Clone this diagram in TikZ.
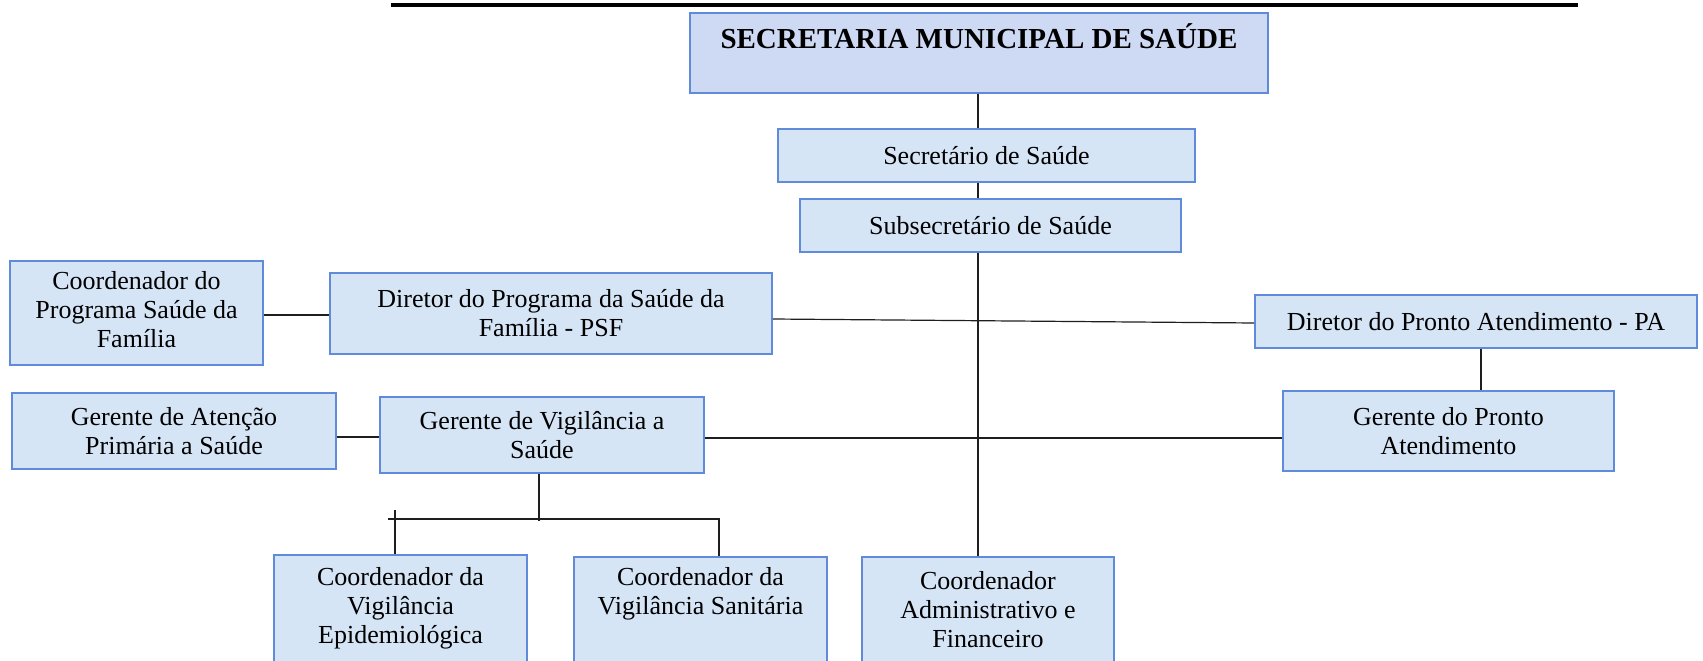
\documentclass[tikz,border=0pt]{standalone}
\usepackage{fontspec}
\setmainfont{Liberation Serif}
\definecolor{boxfill}{RGB}{214,229,246}
\definecolor{titlefill}{RGB}{206,217,243}
\definecolor{boxline}{RGB}{96,138,218}
\definecolor{conn}{RGB}{30,30,30}
\tikzset{
  orgbox/.style={draw=boxline, line width=1.6pt, fill=boxfill, align=center,
    inner sep=0pt, font=\fontsize{26}{29}\selectfont},
  conline/.style={draw=conn, line width=1.2pt},
}
\begin{document}
\begin{tikzpicture}[x=1pt,y=-1pt]
\useasboundingbox (0,0) rectangle (1703,661);
% top bar
\coordinate (barL) at (391,5);
\coordinate (barR) at (1578,5);
\draw[line width=4.5pt] (barL) -- (barR);
% boxes
\node[orgbox, fill=titlefill, minimum width=578pt, minimum height=80pt] (title) at (979,53)
  {\raisebox{5pt}[0pt][0pt]{\fontsize{29}{32}\selectfont\bfseries SECRETARIA MUNICIPAL DE SAÚDE}};
\node[orgbox, minimum width=417pt, minimum height=53pt] (sec) at (986.5,155.5) {Secretário de Saúde};
\node[orgbox, minimum width=381pt, minimum height=53pt] (sub) at (990.5,225.5) {Subsecretário de Saúde};
\node[orgbox, minimum width=253pt, minimum height=104pt] (cps) at (136.5,313) {\raisebox{-3pt}{\begin{tabular}{@{}c@{}}Coordenador do\\Programa Saúde da\\Família\end{tabular}}};
\node[orgbox, minimum width=442pt, minimum height=81pt] (dpsf) at (551,313.5) {Diretor do Programa da Saúde da\\Família - PSF};
\node[orgbox, minimum width=442pt, minimum height=53pt] (dpa) at (1476,321.5) {Diretor do Pronto Atendimento - PA};
\node[orgbox, minimum width=331pt, minimum height=80pt] (gpa) at (1448.5,431) {Gerente do Pronto\\Atendimento};
\node[orgbox, minimum width=324pt, minimum height=76pt] (gap) at (174,431) {Gerente de Atenção\\Primária a Saúde};
\node[orgbox, minimum width=324pt, minimum height=76pt] (gv) at (542,435) {Gerente de Vigilância a\\Saúde};
\node[orgbox, minimum width=253pt, minimum height=107pt] (cve) at (400.5,608.5) {Coordenador da\\Vigilância\\Epidemiológica};
\node[orgbox, minimum width=253pt, minimum height=105pt] (cvs) at (700.5,609.5) {Coordenador da\\Vigilância Sanitária\\\strut};
\node[orgbox, minimum width=252pt, minimum height=105pt] (cad) at (988,609.5) {Coordenador\\Administrativo e\\Financeiro};
% connector helper coordinates
\coordinate (vx) at (978,0);
\coordinate (pax) at (1481,0);
\coordinate (gvx) at (539,0);
\coordinate (hL) at (388,519);
\coordinate (hR) at (720,519);
\coordinate (lTop) at (395,510);
\coordinate (rTop) at (719,519);
\coordinate (gvEnd) at (539,521);
% connectors
\draw[conline] (title.south -| vx) -- (sec.north -| vx);
\draw[conline] (sec.south -| vx) -- (sub.north -| vx);
\draw[conline] (sub.south -| vx) -- (cad.north -| vx);
\draw[conline] ([yshift=-2pt]cps.east) -- ([yshift=-2pt]cps.east -| dpsf.west);
\draw[conline] ([yshift=-5.5pt]dpsf.east) -- ([yshift=-1.5pt]dpa.west);
\draw[conline] (dpa.south -| pax) -- (gpa.north -| pax);
\draw[conline] ([yshift=-6pt]gap.east) -- ([yshift=-6pt]gap.east -| gv.west);
\draw[conline] ([yshift=-3pt]gv.east) -- ([yshift=-3pt]gv.east -| gpa.west);
\draw[conline] (gv.south -| gvx) -- (gvEnd);
\draw[conline] (hL) -- (hR);
\draw[conline] (lTop) -- (lTop |- cve.north);
\draw[conline] (rTop) -- (rTop |- cvs.north);
\end{tikzpicture}
\end{document}
